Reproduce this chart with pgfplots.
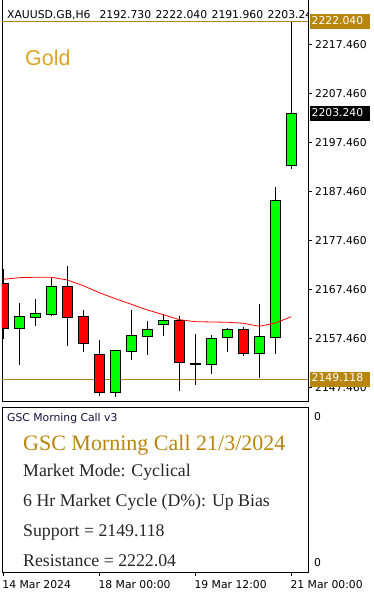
\documentclass[border=0pt]{standalone}
\usepackage{fontspec}
\usepackage{pgfplots}
\usepackage{pgfplotstable}
\pgfplotsset{compat=1.18}
\newfontfamily\tahoma{DejaVu Sans}
\newfontfamily\arialf{Liberation Sans}
\newfontfamily\garamond{Liberation Serif}
\definecolor{mtgold}{HTML}{B8860B}
\definecolor{goldtxt}{HTML}{DAA520}
\definecolor{mtgreen}{HTML}{00FF00}
\definecolor{mtred}{HTML}{FF0000}
\definecolor{navytxt}{HTML}{10103A}
\definecolor{bodytxt}{HTML}{262626}

\pgfplotstableread{
i open high low close ma
0 2168.54 2171.54 2157.26 2159.50 2169.50
1 2159.50 2164.73 2152.07 2161.75 2169.83
2 2161.75 2165.48 2160.03 2162.36 2169.91
3 2162.36 2169.83 2161.95 2167.87 2169.91
4 2167.87 2172.28 2155.95 2161.75 2169.36
5 2161.75 2163.24 2154.73 2156.44 2168.19
6 2153.99 2157.11 2145.75 2146.44 2166.77
7 2146.44 2155.07 2145.54 2154.81 2165.54
8 2154.81 2163.24 2153.03 2157.87 2164.40
9 2157.87 2161.05 2154.11 2159.09 2163.24
10 2160.32 2162.36 2157.99 2160.93 2162.28
11 2160.93 2161.95 2146.64 2152.56 2161.26
12 2152.28 2158.34 2147.87 2152.28 2160.85
13 2152.28 2158.13 2150.24 2157.26 2160.79
14 2157.66 2159.56 2154.73 2159.09 2160.73
15 2159.09 2159.70 2153.91 2154.40 2160.52
16 2154.40 2164.46 2149.30 2157.66 2159.91
17 2157.66 2188.27 2154.19 2185.42 2160.58
18 2192.73 2222.04 2191.96 2203.24 2161.87
}\candles

\newcommand\smallfont{\tahoma\fontsize{10.8}{12}\selectfont}

\begin{document}
\begin{tikzpicture}[x=1pt,y=1pt]

% ---- main chart
\begin{axis}[
  at={(2pt,595pt)}, anchor=north west,
  width=306pt, height=403pt, scale only axis,
  xmin=-0.08125, xmax=19.04,
  ymin=2144.66, ymax=2226.91,
  clip bounding box=upper bound,
  axis line style={black, line width=0.8pt},
  xtick=\empty,
  ytick={2147.46,2157.46,2167.46,2177.46,2187.46,2197.46,2207.46,2217.46},
  yticklabels={2147.460,2157.460,2167.460,2177.460,2187.460,2197.460,2207.460,2217.460},
  ytick pos=right, yticklabel pos=right,
  tick align=outside, major tick length=4pt,
  tick style={black, line width=0.8pt},
  yticklabel style={font=\smallfont, anchor=west, inner sep=0pt, xshift=3pt},
  extra y ticks={2222.04,2203.24,2149.118},
  extra y tick labels={
    \colorbox{mtgold}{\makebox[57pt][l]{\strut\textcolor{white}{2222.040}}},
    \colorbox{black}{\makebox[57pt][l]{\strut\textcolor{white}{2203.240}}},
    \colorbox{mtgold}{\makebox[57pt][l]{\strut\textcolor{white}{2149.118}}}},
  extra y tick style={major tick length=0pt, tick style={draw=none},
    yticklabel style={font=\smallfont\setlength{\fboxsep}{1.5pt}, anchor=west, inner sep=0pt, xshift=-1pt}},
  /pgf/number format/assume math mode=true,
]
% resistance / support
\addplot[mtgold, line width=0.8pt] coordinates {(-0.08125,2222.04) (19.04,2222.04)};
\addplot[mtgold, line width=0.8pt] coordinates {(-0.08125,2149.118) (19.04,2149.118)};
% wicks
\addplot[black, line width=1pt, mark=none,
  quiver={u=0, v=\thisrow{high}-\thisrow{low}}]
  table[x=i, y=low] {\candles};
% body outlines
\addplot[black, line width=10.6pt, mark=none,
  quiver={u=0, v={abs(\thisrow{close}-\thisrow{open})+0.4}}]
  table[x=i, y expr={min(\thisrow{open},\thisrow{close})-0.2}] {\candles};
% green bodies
\addplot[mtgreen, line width=8.6pt, mark=none,
  quiver={u=0, v={max(\thisrow{close}-\thisrow{open},0)}}]
  table[x=i, y=open] {\candles};
% red bodies
\addplot[mtred, line width=8.6pt, mark=none,
  quiver={u=0, v={max(\thisrow{open}-\thisrow{close},0)}}]
  table[x=i, y=close] {\candles};
% moving average
\addplot[mtred, line width=0.8pt, mark=none] table[x=i, y=ma] {\candles};
\end{axis}

% ---- indicator window
\begin{axis}[
  at={(2pt,186pt)}, anchor=north west,
  width=306pt, height=165pt, scale only axis,
  clip bounding box=upper bound,
  xmin=-0.08125, xmax=19.04, ymin=0, ymax=1,
  axis line style={black, line width=0.8pt},
  xtick={0,6,12,18},
  xticklabels={14 Mar 2024, 18 Mar 00:00, 19 Mar 12:00, 21 Mar 00:00},
  xtick pos=bottom, tick align=outside, major tick length=4pt,
  tick style={black, line width=0.8pt},
  xticklabel style={font=\smallfont, anchor=north west, inner sep=0pt, xshift=-1pt, yshift=-4pt},
  ytick={0.055,0.941}, yticklabels={0,0},
  ytick pos=right, yticklabel pos=right,
  ytick style={draw=none},
  yticklabel style={font=\smallfont, anchor=west, inner sep=0pt, xshift=2pt},
]
\addplot[draw=none] coordinates {(0,0.5) (1,0.5)};
\end{axis}

% ---- texts
\begin{scope}
\clip (2,560) rectangle (308,593);
\node[anchor=base west, inner sep=0pt, font=\smallfont] at (7,574.7)
  {\spaceskip=4.5pt XAUUSD.GB,H6\hspace{9pt}2192.730 2222.040 2191.960 2203.240};
\end{scope}
\node[anchor=base west, inner sep=0pt, text=goldtxt, font=\arialf\fontsize{21.5}{24}\selectfont] at (25,527.3) {Gold};

\node[anchor=base west, inner sep=0pt, text=navytxt, font=\smallfont] at (7,171) {GSC Morning Call v3};
\node[anchor=base west, inner sep=0pt, text=mtgold, font=\garamond\fontsize{22}{24}\selectfont] at (23,142.3) {GSC Morning Call 21/3/2024};
\node[anchor=base west, inner sep=0pt, text=bodytxt, font=\garamond\fontsize{17.8}{20}\selectfont] at (23,116.3) {Market Mode: Cyclical};
\node[anchor=base west, inner sep=0pt, text=bodytxt, font=\garamond\fontsize{17.8}{20}\selectfont] at (23,86.3) {6 Hr Market Cycle (D\%): Up Bias};
\node[anchor=base west, inner sep=0pt, text=bodytxt, font=\garamond\fontsize{17.8}{20}\selectfont] at (23,56.3) {Support = 2149.118};
\node[anchor=base west, inner sep=0pt, text=bodytxt, font=\garamond\fontsize{17.8}{20}\selectfont] at (23,26.3) {Resistance = 2222.04};

\pgfresetboundingbox
\useasboundingbox (0,0) rectangle (373,593);
\end{tikzpicture}
\end{document}
